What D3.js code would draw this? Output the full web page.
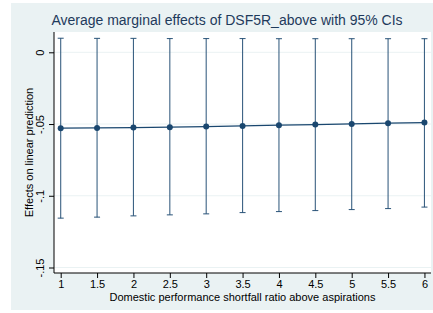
<!DOCTYPE html>
<html><head><meta charset="utf-8">
<script src="https://cdn.jsdelivr.net/npm/d3@7"></script>
<style>body{margin:0;background:#fff}svg{display:block}text{font-family:Arial,"Liberation Sans",sans-serif}</style>
</head><body><svg id="c" width="433" height="313"></svg>
<script>
const xs = [1,1.5,2,2.5,3,3.5,4,4.5,5,5.5,6];
const est = [-0.0529,-0.0527,-0.0525,-0.0522,-0.0518,-0.0513,-0.0508,-0.0504,-0.0499,-0.0494,-0.0490];
const lower = [-0.1156,-0.1149,-0.1140,-0.1133,-0.1126,-0.1117,-0.1110,-0.1103,-0.1096,-0.1089,-0.1079];
const upper = [0.0098,0.0097,0.0097,0.0096,0.0096,0.0096,0.0095,0.0095,0.0095,0.0095,0.0095];
const yTicks = [0,-0.05,-0.1,-0.15];
const yTickLabels = ["0","-.05","-.1","-.15"];
const xTicks = [1,1.5,2,2.5,3,3.5,4,4.5,5,5.5,6];

const svg = d3.select("#c");
const navy = "#1a476f";
svg.append("rect").attr("x",11).attr("y",3).attr("width",422).attr("height",307).attr("fill","#eaf2f3");
const L=54,R=431,T=32,B=273;
svg.append("rect").attr("x",L).attr("y",T).attr("width",R-L).attr("height",B-T).attr("fill","#fff");
const x = d3.scaleLinear().domain([0.908,6.09]).range([L,R]);
const y = d3.scaleLinear().domain([-0.15,0]).range([267.5,52.3]);

svg.append("g").selectAll("line").data(yTicks).join("line")
  .attr("x1",L).attr("x2",R).attr("y1",d=>y(d)).attr("y2",d=>y(d))
  .attr("stroke","#eaf2f3").attr("stroke-width",1);

const gy = svg.append("g").attr("transform",`translate(${L},0)`)
  .call(d3.axisLeft(y).tickValues(yTicks).tickSize(5).tickFormat((d,i)=>yTickLabels[i]));
gy.select(".domain").attr("d",`M0,${T}V${B}`).attr("stroke","#000");
gy.selectAll(".tick line").attr("stroke","#000");
gy.selectAll(".tick text").attr("font-size",11).attr("fill","#000")
  .attr("x",null).attr("y",null).attr("dy",0).attr("text-anchor","middle")
  .attr("transform","translate(-10,0) rotate(-90)");

const gx = svg.append("g").attr("transform",`translate(0,${B})`)
  .call(d3.axisBottom(x).tickValues(xTicks).tickSize(5).tickFormat(d3.format("")));
gx.select(".domain").attr("d",`M${L},0H${R}`).attr("stroke","#000");
gx.selectAll(".tick line").attr("stroke","#000");
gx.selectAll(".tick text").attr("font-size",11).attr("fill","#000").attr("y",7).attr("dy","0.71em");

const g = svg.append("g");
xs.forEach((v,i)=>{
  g.append("line").attr("x1",x(v)).attr("x2",x(v)).attr("y1",y(upper[i])).attr("y2",y(lower[i]))
    .attr("stroke",navy).attr("stroke-width",1.1).attr("stroke-opacity",0.85);
  [upper[i],lower[i]].forEach(c=>g.append("line").attr("x1",x(v)-3).attr("x2",x(v)+3)
    .attr("y1",y(c)).attr("y2",y(c)).attr("stroke",navy).attr("stroke-width",1.1).attr("stroke-opacity",0.85));
});
g.append("path").datum(xs.map((v,i)=>[v,est[i]]))
  .attr("d",d3.line().x(d=>x(d[0])).y(d=>y(d[1]))).attr("fill","none").attr("stroke",navy).attr("stroke-width",1.2);
g.selectAll("circle").data(xs).join("circle").attr("cx",d=>x(d)).attr("cy",(d,i)=>y(est[i])).attr("r",3).attr("fill",navy);

svg.append("text").attr("x",227).attr("y",25).attr("text-anchor","middle").attr("font-size",14)
  .attr("fill","#1e3a5c").text("Average marginal effects of DSF5R_above with 95% CIs");
svg.append("text").attr("x",(L+R)/2).attr("y",301).attr("text-anchor","middle").attr("font-size",11)
  .attr("fill","#000").text("Domestic performance shortfall ratio above aspirations");
svg.append("text").attr("transform",`translate(33,${(T+B)/2}) rotate(-90)`).attr("text-anchor","middle")
  .attr("font-size",11).attr("fill","#000").text("Effects on linear prediction");
</script></body></html>
